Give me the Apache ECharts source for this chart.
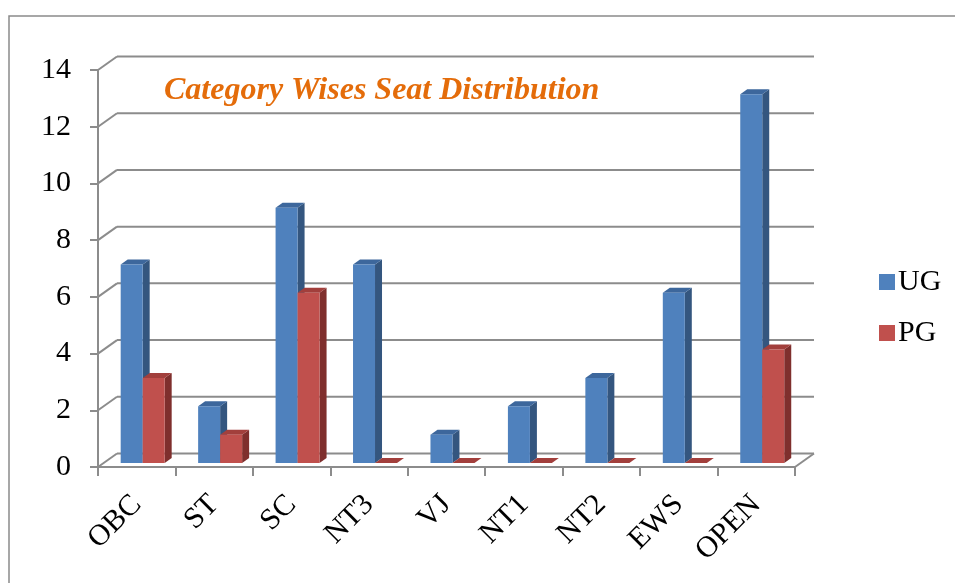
<!DOCTYPE html>
<html>
<head>
<meta charset="utf-8">
<script src="https://cdn.jsdelivr.net/npm/echarts@6/dist/echarts.min.js"></script>
<style>
html, body { margin: 0; padding: 0; background: #fff; }
#chart { width: 955px; height: 583px; }
</style>
</head>
<body>
<div id="chart"></div>
<script>
var categories = ['OBC', 'ST', 'SC', 'NT3', 'VJ', 'NT1', 'NT2', 'EWS', 'OPEN'];
var ugValues = [7, 2, 9, 7, 1, 2, 3, 6, 13];
var pgValues = [3, 1, 6, 0, 0, 0, 0, 0, 4];
var yTicks = [0, 2, 4, 6, 8, 10, 12, 14];

// depth of the back wall and of the bars (px)
var DX = 19, DY = -13.5;
var BX = 7, BY = -5;
var FONT = 'Liberation Serif';
var LINE = '#8c8c8c';

function toData(arr) {
    return arr.map(function (v, i) { return [i, v]; });
}

function barRender(front, side, top, shift) {
    return function (params, api) {
        var idx = api.value(0);
        var base = api.coord([idx, 0]);
        var tip = api.coord([idx, api.value(1)]);
        var band = api.size([1, 0])[0];
        var w = band * 0.284;
        var x0 = base[0] + band * shift;
        var x1 = x0 + w;
        var y0 = base[1] - 4;
        var y1 = tip[1] - 4;
        return {
            type: 'group',
            children: [
                {
                    type: 'polygon',
                    shape: { points: [[x1, y1], [x1 + BX, y1 + BY], [x1 + BX, y0 + BY], [x1, y0]] },
                    style: { fill: side }
                },
                {
                    type: 'polygon',
                    shape: { points: [[x0, y1], [x1, y1], [x1 + BX, y1 + BY], [x0 + BX, y1 + BY]] },
                    style: { fill: top }
                },
                {
                    type: 'rect',
                    shape: { x: x0, y: y1, width: w, height: y0 - y1 },
                    style: { fill: front }
                }
            ]
        };
    };
}

function wallRender(params, api) {
    var cs = params.coordSys;
    var v = api.value(1);
    var p = api.coord([0, v]);
    var left = cs.x, right = cs.x + cs.width;
    var kids = [
        {
            type: 'line',
            shape: { x1: left, y1: p[1], x2: left + DX, y2: p[1] + DY },
            style: { stroke: LINE, lineWidth: 2 }
        },
        {
            type: 'line',
            shape: { x1: left + DX, y1: p[1] + DY, x2: right + DX, y2: p[1] + DY },
            style: { stroke: LINE, lineWidth: 2 }
        }
    ];
    if (v === 0) {
        kids.push({
            type: 'line',
            shape: { x1: right, y1: p[1], x2: right + DX, y2: p[1] + DY },
            style: { stroke: LINE, lineWidth: 2 }
        });
    }
    return { type: 'group', children: kids };
}

var chart = echarts.init(document.getElementById('chart'));
chart.setOption({
    animation: false,
    title: {
        text: 'Category Wises Seat Distribution',
        left: 159,
        top: 70,
        textStyle: {
            fontFamily: FONT,
            fontSize: 32,
            fontWeight: 'bold',
            fontStyle: 'italic',
            color: '#E46C0A'
        }
    },
    legend: {
        orient: 'vertical',
        left: 874,
        top: 262,
        itemWidth: 16,
        itemHeight: 16,
        itemGap: 21,
        itemStyle: { borderWidth: 0 },
        icon: 'rect',
        data: ['UG', 'PG'],
        textStyle: { fontFamily: FONT, fontSize: 30, color: '#000', padding: [0, 0, 0, -2] }
    },
    graphic: [{
        type: 'rect',
        shape: { x: 9, y: 16, width: 1000, height: 1000 },
        style: { fill: 'none', stroke: '#8a8a8a', lineWidth: 1.5 },
        silent: true
    }],
    grid: { left: 98, right: 160, top: 70, bottom: 116 },
    xAxis: {
        type: 'category',
        data: categories,
        axisLine: { lineStyle: { color: LINE, width: 2 } },
        axisTick: { show: true, length: 9, lineStyle: { color: LINE, width: 2 } },
        axisLabel: {
            rotate: 45,
            margin: 33,
            interval: 0,
            fontFamily: FONT,
            fontSize: 30,
            color: '#000'
        },
        splitLine: { show: false }
    },
    yAxis: {
        type: 'value',
        min: 0,
        max: 14,
        interval: 2,
        axisLine: { show: true, lineStyle: { color: LINE, width: 2 } },
        axisTick: { show: true, length: 8, lineStyle: { color: LINE, width: 2 } },
        axisLabel: { margin: 27, fontFamily: FONT, fontSize: 30, color: '#000' },
        splitLine: { show: false }
    },
    series: [
        {
            type: 'custom',
            name: 'wall',
            silent: true,
            z: 1,
            renderItem: wallRender,
            data: toData(yTicks).map(function (d) { return [0, d[1]]; })
        },
        {
            type: 'custom',
            name: 'UG',
            z: 3,
            itemStyle: { color: '#4F81BD' },
            renderItem: barRender('#4F81BD', '#34567F', '#3D679C', -0.207),
            data: toData(ugValues)
        },
        {
            type: 'custom',
            name: 'PG',
            z: 3,
            itemStyle: { color: '#C0504D' },
            renderItem: barRender('#C0504D', '#7F2F2D', '#A23F3C', 0.077),
            data: toData(pgValues)
        }
    ]
});
</script>
</body>
</html>
